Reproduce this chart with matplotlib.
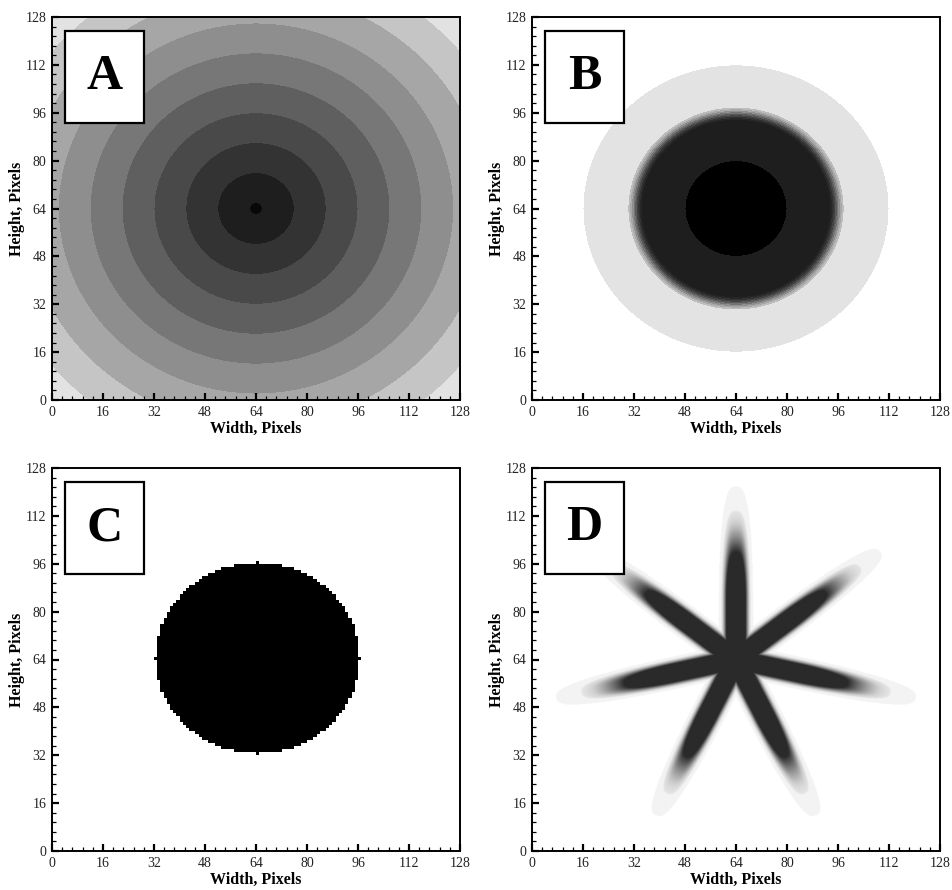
import numpy as np
import matplotlib
matplotlib.use("Agg")
import matplotlib.pyplot as plt
from matplotlib.patches import Rectangle
from matplotlib.colors import ListedColormap, LinearSegmentedColormap
from matplotlib.ticker import MultipleLocator

plt.rcParams["font.family"] = ["Liberation Serif", "DejaVu Serif"]

# ---- shared geometry ---------------------------------------------------
GRID_SIZE = 128
CENTER = (64, 64)
TICKS = [0, 16, 32, 48, 64, 80, 96, 112, 128]
PANEL_LETTERS = ["A", "B", "C", "D"]

# ---- panel A: concentric banded field ----------------------------------
A_radii = [0, 2, 12, 22, 32, 42, 52, 62, 72.5, 83, 200]
A_grays = ["#080808", "#1e1e1e", "#333333", "#494949", "#5f5f5f",
           "#777777", "#8e8e8e", "#a6a6a6", "#c5c5c5", "#e2e2e2"]

# ---- panel B: dark core with soft edge and pale halo -------------------
B_radii = [0, 16, 29.8, 30.3, 30.8, 31.3, 31.8, 32.3, 32.8, 33.3, 33.9, 48, 200]
B_grays = ["#000000", "#1e1e1e", "#262626", "#323232", "#434343", "#5a5a5a",
           "#747474", "#8f8f8f", "#a8a8a8", "#bcbcbc", "#e3e3e3", "#ffffff"]

# ---- panel C: binary pixel disc ----------------------------------------
C_radius = 32

# ---- panel D: seven-armed star -----------------------------------------
D_arm_angles = [90.0, 38.6, -12.9, -64.3, -115.7, -167.1, 141.4]
D_core_length = 20.0     # arm stays at full strength up to here
D_fall_length = 19.2     # gaussian fall-off length beyond the core
D_half_width = 3.4       # cross-arm half width
D_profile_power = 3.0    # sharpness of the cross-arm profile
# anchor values of the star field and the grey shown there
D_anchor_values = [0.0, 0.02, 0.02, 0.09, 0.09, 0.16, 0.50, 1.0]
D_anchor_grays = ["#ffffff", "#ffffff", "#f3f3f3", "#f3f3f3", "#e6e6e6",
                  "#d0d0d0", "#2a2a2a", "#2a2a2a"]

fig = plt.figure(figsize=(9.52, 8.90), dpi=100)

W = 408 / 952
H = 383 / 890
lefts = [52 / 952, 532 / 952, 52 / 952, 532 / 952]
bottoms = [(890 - 400) / 890, (890 - 400) / 890, (890 - 851) / 890, (890 - 851) / 890]

xs = np.linspace(0, GRID_SIZE, 769)
X, Y = np.meshgrid(xs, xs)
R = np.hypot(X - CENTER[0], Y - CENTER[1])


def style_axes(ax, letter):
    ax.set_xlim(0, GRID_SIZE)
    ax.set_ylim(0, GRID_SIZE)
    ax.set_xticks(TICKS)
    ax.set_yticks(TICKS)
    ax.xaxis.set_minor_locator(MultipleLocator(3.2))
    ax.yaxis.set_minor_locator(MultipleLocator(3.2))
    ax.tick_params(which="major", direction="in", length=5, width=1.6,
                   labelsize=10, pad=4, top=False, right=False,
                   labelcolor="#222222")
    ax.tick_params(which="minor", direction="in", length=2.8, width=0.9,
                   top=False, right=False)
    for sp in ax.spines.values():
        sp.set_linewidth(1.4)
    ax.set_xlabel("Width, Pixels", fontsize=11.5, fontweight="bold", labelpad=2)
    ax.set_ylabel("Height, Pixels", fontsize=11.5, fontweight="bold", labelpad=0.5)
    ax.add_patch(Rectangle((4.1, 92.5), 24.8, 30.8, facecolor="white",
                           edgecolor="black", linewidth=1.6, zorder=5))
    ax.text(16.5, 107.9, letter, ha="center", va="center", fontsize=36,
            fontweight="bold", zorder=6)


axes = [fig.add_axes([l, b, W, H]) for l, b in zip(lefts, bottoms)]

# A
axes[0].contourf(X, Y, R, levels=A_radii, colors=A_grays)

# B
axes[1].contourf(X, Y, R, levels=B_radii, colors=B_grays)

# C
idx = np.arange(GRID_SIZE)
I, J = np.meshgrid(idx, idx)
disc = ((I - CENTER[0]) ** 2 + (J - CENTER[1]) ** 2 <= C_radius ** 2).astype(float)
edges = np.arange(GRID_SIZE + 1)
axes[2].pcolormesh(edges, edges, disc, cmap=ListedColormap(["white", "black"]),
                   vmin=0, vmax=1)

# D
field = np.zeros_like(X)
for ang in D_arm_angles:
    t = np.deg2rad(ang)
    u = (X - CENTER[0]) * np.cos(t) + (Y - CENTER[1]) * np.sin(t)
    v = -(X - CENTER[0]) * np.sin(t) + (Y - CENTER[1]) * np.cos(t)
    along = np.where(u <= D_core_length, 1.0,
                     np.exp(-((u - D_core_length) / D_fall_length) ** 2))
    along = np.where(u < 0, np.exp(-(u / 1.5) ** 2), along)
    across = np.exp(-(np.abs(v) / D_half_width) ** D_profile_power)
    field = np.maximum(field, along * across)

star_cmap = LinearSegmentedColormap.from_list(
    "star", list(zip(D_anchor_values, D_anchor_grays)), N=1024)
axes[3].imshow(field, origin="lower", extent=(0, GRID_SIZE, 0, GRID_SIZE),
               cmap=star_cmap, vmin=0, vmax=1, interpolation="bilinear",
               aspect="auto")

for ax, letter in zip(axes, PANEL_LETTERS):
    style_axes(ax, letter)

fig.savefig("out.png", dpi=100)
